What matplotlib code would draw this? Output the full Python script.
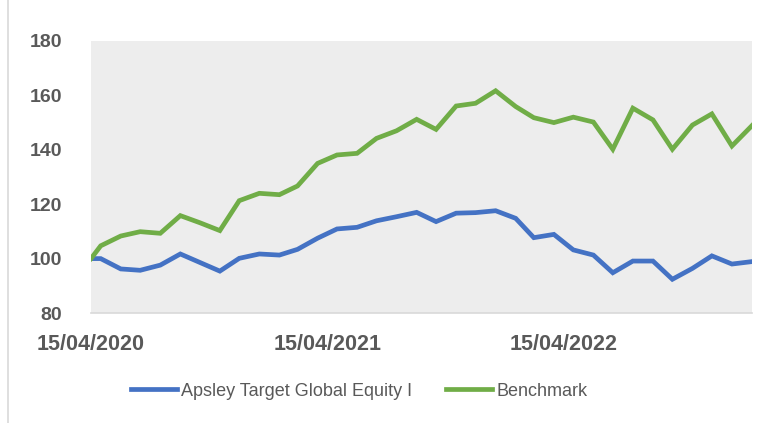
import numpy as np
import pandas as pd
import matplotlib
matplotlib.use("Agg")
import matplotlib.pyplot as plt
import matplotlib.dates as mdates
from matplotlib.lines import Line2D

# dates : départ 15/04/2020 puis fins de mois
dates = pd.to_datetime(["2020-04-15"]).append(
    pd.date_range("2020-04-30", "2023-01-31", freq="ME"))

apsley = [100, 100, 96.2, 95.7, 97.6, 101.7, 98.6, 95.4, 100.1, 101.7,
          101.3, 103.4, 107.5, 110.9, 111.5, 113.9, 115.4, 117.0, 113.6, 116.7,
          116.9, 117.6, 114.8, 107.7, 108.9, 103.2, 101.3, 94.8, 99.1, 99.1,
          92.4, 96.4, 101.0, 98.0, 98.9]
benchmark = [100, 104.7, 108.3, 109.9, 109.3, 115.8, 113.2, 110.3, 121.3, 124.0,
             123.5, 126.7, 135.0, 138.1, 138.7, 144.2, 147.0, 151.2, 147.5, 156.1,
             157.1, 161.7, 155.9, 151.8, 150.0, 152.0, 150.2, 140.2, 155.3, 151.0,
             140.2, 149.1, 153.2, 141.4, 148.9]
tick_dates = pd.to_datetime(["2020-04-15", "2021-04-15", "2022-04-15"])
labels = ["Apsley Target Global Equity I", "Benchmark"]

BLUE = "#4472C4"
GREEN = "#70AD47"
GREY = "#595959"

W, H = 773, 423
fig = plt.figure(figsize=(W / 100, H / 100), dpi=100)
ax = fig.add_axes([91 / W, 1 - 313 / H, (752 - 91) / W, (313 - 41) / H])
ax.set_facecolor("#EDEDED")

ax.plot(dates, apsley, color=BLUE, lw=3.4, solid_joinstyle="miter")
ax.plot(dates, benchmark, color=GREEN, lw=3.4, solid_joinstyle="miter")

ax.set_xlim(dates[0], dates[-1])
ax.set_ylim(80, 180)
ax.set_yticks(range(80, 181, 20))
ax.set_xticks(tick_dates)
ax.xaxis.set_major_formatter(mdates.DateFormatter("%d/%m/%Y"))

for s in ["top", "right", "left"]:
    ax.spines[s].set_visible(False)
ax.spines["bottom"].set_color("#D9D9D9")
ax.spines["bottom"].set_linewidth(1.2)
ax.tick_params(length=0)
ax.tick_params(axis="y", pad=21)
ax.tick_params(axis="x", pad=15)
for t in ax.get_yticklabels():
    t.set_fontsize(14)
for t in ax.get_xticklabels():
    t.set_fontsize(15.5)
for t in ax.get_yticklabels() + ax.get_xticklabels():
    t.set_fontfamily("Liberation Sans")
    t.set_fontweight("bold")
    t.set_color(GREY)

handles = [Line2D([], [], color=BLUE, lw=3.4), Line2D([], [], color=GREEN, lw=3.4)]
leg = fig.legend(handles, labels, loc="center", bbox_to_anchor=(359 / W, 1 - 391 / H),
                 ncol=2, frameon=False, handlelength=2.55, handletextpad=0.22,
                 columnspacing=1.9, prop={"family": "Liberation Sans", "size": 13})
for t in leg.get_texts():
    t.set_color(GREY)

# bordure gauche du cadre
fig.add_artist(Line2D([8 / W, 8 / W], [0, 1], color="#D9D9D9", lw=1.2))

fig.savefig("out.png", dpi=100)
